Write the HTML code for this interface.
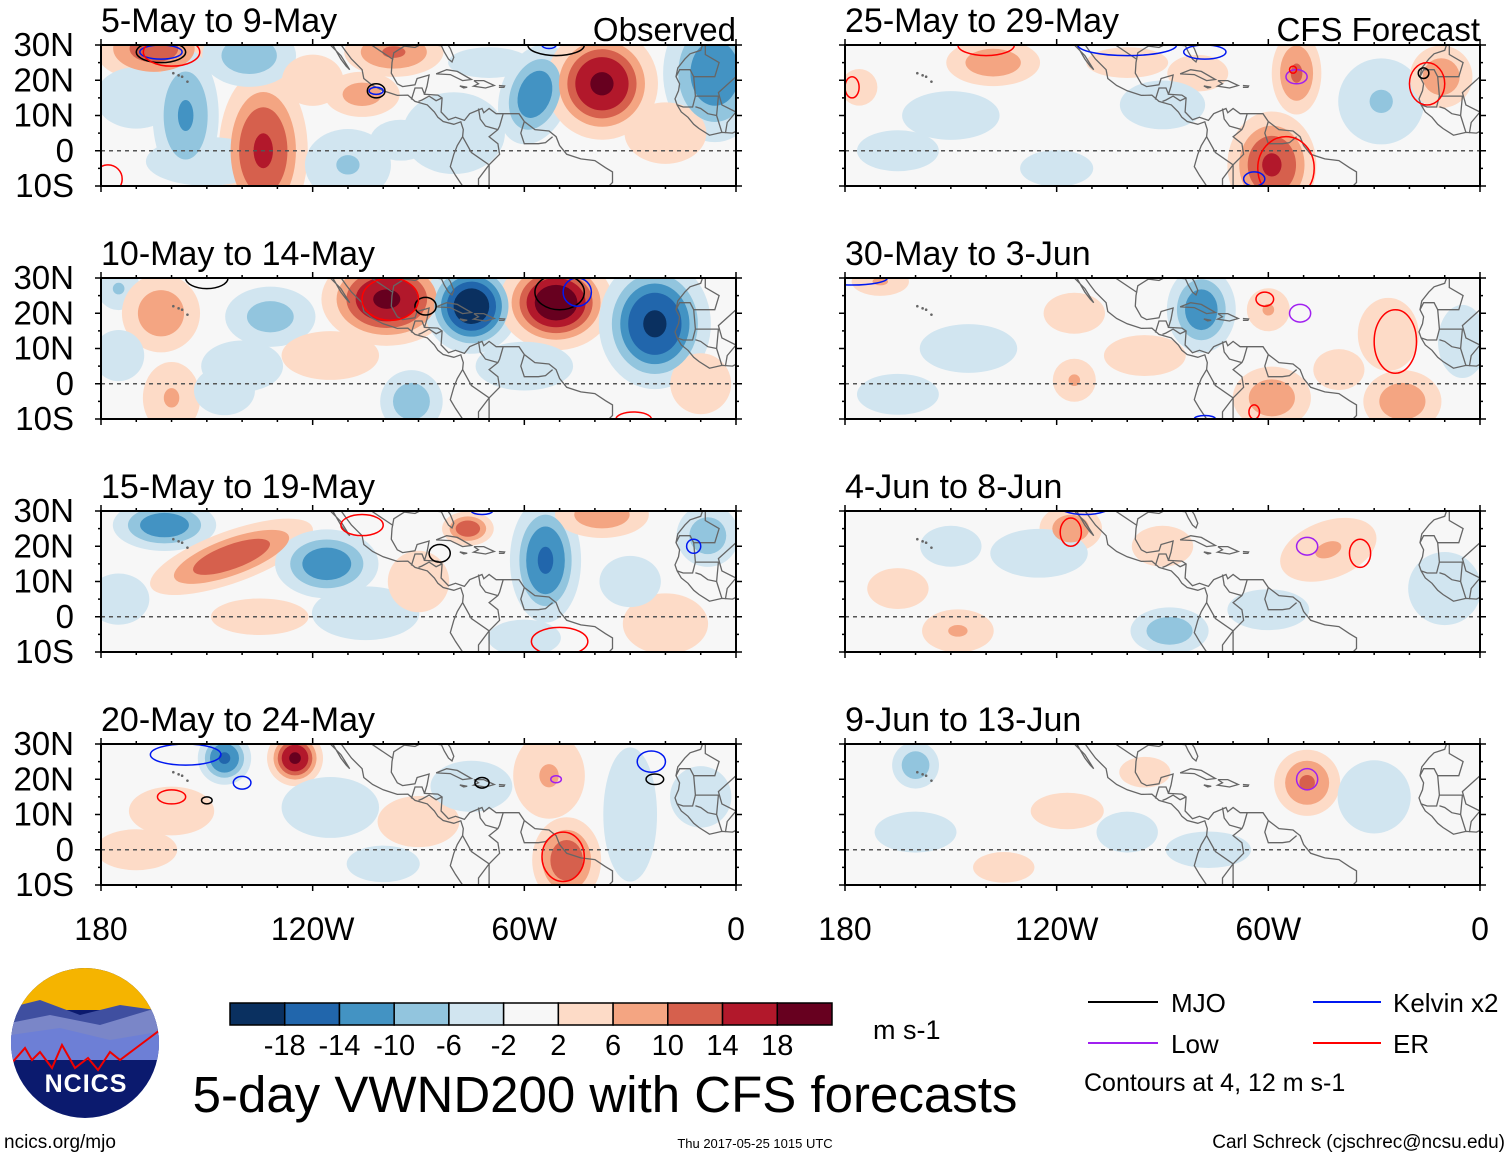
<!DOCTYPE html>
<html><head><meta charset="utf-8"><style>
html,body{margin:0;padding:0;background:#fff;}
svg text{font-family:"Liberation Sans",Arial,sans-serif;}
</style></head><body>
<svg id="fig" xmlns="http://www.w3.org/2000/svg" width="1510" height="1158" viewBox="0 0 1510 1158">
<rect width="1510" height="1158" fill="#fff"/>
<g id="panels"></g>
<g id="bottom">
  <g>
    <clipPath id="lc"><ellipse cx="85" cy="1043" rx="74" ry="75"/></clipPath>
    <g clip-path="url(#lc)">
      <rect x="0" y="960" width="170" height="170" fill="#0b1a6e"/>
      <rect x="0" y="960" width="170" height="50" fill="#f5b400"/>
      <path d="M0,1010 L40,1000 L80,1015 L120,1005 L170,1012 L170,1040 L0,1040Z" fill="#3f4fa0"/>
      <path d="M0,1025 L50,1015 L100,1025 L150,1010 L170,1015 L170,1050 L0,1050Z" fill="#7a86c8"/>
      <path d="M10,1035 L60,1028 L110,1040 L170,1030 L170,1060 L0,1060Z" fill="#6d7fd6"/>
      <path d="M10,1065 L25,1048 L32,1060 L40,1052 L52,1068 L62,1045 L75,1068 L88,1058 L98,1070 L110,1052 L120,1060 L140,1045 L160,1030" fill="none" stroke="#e00" stroke-width="2"/>
    </g>
    <text x="86" y="1092" font-size="25" font-weight="bold" fill="#fff" text-anchor="middle" letter-spacing="1">NCICS</text>
  </g>
  <text x="4" y="1148" font-size="19">ncics.org/mjo</text>
  <text x="755" y="1148" font-size="13" text-anchor="middle">Thu 2017-05-25 1015 UTC</text>
  <text x="1505" y="1148" font-size="19" text-anchor="end">Carl Schreck (cjschrec@ncsu.edu)</text>
  <text x="605" y="1112" font-size="51" text-anchor="middle">5-day VWND200 with CFS forecasts</text>
  <g id="cbar"></g>
  <text x="873" y="1039" font-size="27">m s-1</text>
  <g>
    <line x1="1088" y1="1002" x2="1158" y2="1002" stroke="#000" stroke-width="2"/>
    <text x="1171" y="1012" font-size="26">MJO</text>
    <line x1="1313" y1="1002" x2="1381" y2="1002" stroke="#0018f0" stroke-width="2"/>
    <text x="1393" y="1012" font-size="26">Kelvin x2</text>
    <line x1="1088" y1="1043" x2="1158" y2="1043" stroke="#a020f0" stroke-width="2"/>
    <text x="1171" y="1053" font-size="26">Low</text>
    <line x1="1313" y1="1043" x2="1381" y2="1043" stroke="#f00" stroke-width="2"/>
    <text x="1393" y="1053" font-size="26">ER</text>
    <text x="1084" y="1091" font-size="25">Contours at 4, 12 m s-1</text>
  </g>
  <g id="xlabels"></g>
</g>
</svg>
<script>
const NS="http://www.w3.org/2000/svg";
// ---- data ----
const panelTitles=["5-May to 9-May","10-May to 14-May","15-May to 19-May","20-May to 24-May","25-May to 29-May","30-May to 3-Jun","4-Jun to 8-Jun","9-Jun to 13-Jun"];
const latTicks=["30N","20N","10N","0","10S"];
const latVals=[30,20,10,0,-10];
const lonTickLabels=["180","120W","60W","0"];
const lonTickVals=[-180,-120,-60,0];
const cbarLabels=["-18","-14","-10","-6","-2","2","6","10","14","18"];
const cbarColors=["#0a3060","#2166ac","#4393c3","#92c5de","#d1e5f0","#f7f7f7","#fddbc7","#f4a582","#d6604d","#b2182b","#67001f"];
// anomaly blobs per panel: [lon, lat, value m/s, sigmaLon deg, sigmaLat deg, rotation deg]
const blobs0=[[-165,29,11,7,4,0],[-156,10,-10,4,8,0],[-134,0,14,5,9,0],[-138,27,-8,6,4,0],[-106,16,7,5,3,0],[-97,28,10,6,3,0],[-57,16,-12,4,6,20],[-38,19,18,6,6,-35],[-6,22,-12,6,8,0],[-110,-4,-6,6,5,0],[-150,-3,-4,10,4,0],[-80,5,-3,10,8,0],[-20,5,3,8,6,0],[-95,3,-3,6,4,0],[-170,15,-3,8,6,0],[-120,20,3,6,5,0],[-70,25,-3,8,3,0]];
const blobs1=[[-175,27,-6,3,3,0],[-163,20,8,5,5,0],[-160,-4,6,4,5,0],[-132,19,-7,6,4,0],[-99,24,18,7,5,0],[-75,22,-20,5,5,-20],[-51,23,20,6,5,0],[-23,17,-18,6,7,0],[-92,-5,-8,4,4,0],[-145,-2,-4,5,4,0],[-115,8,4,8,4,0],[-10,0,4,5,5,0],[-60,5,-4,8,4,0],[-140,5,-3,8,5,0],[-175,8,-3,5,5,0]];
const blobs2=[[-162,26,-12,6,3,0],[-143,17,12,10,3,-20],[-116,15,-12,6,4,0],[-76,25,12,3,2,0],[-54,16,-14,4,7,0],[-105,1,-5,8,4,0],[-38,29,8,6,3,0],[-20,-2,4,7,5,0],[-8,23,-8,4,4,0],[-135,0,4,8,3,0],[-60,-6,-4,6,3,0],[-175,5,-3,6,5,0],[-90,10,3,6,6,0],[-30,10,-3,6,5,0]];
const blobs3=[[-145,26,-14,3,3,0],[-125,26,18,3,3,0],[-160,11,4,7,4,0],[-53,21,6,5,6,0],[-48,-3,12,4,5,0],[-30,10,-5,4,10,0],[-115,12,-4,8,5,0],[-90,8,3,8,5,0],[-100,-4,-4,6,3,0],[-170,0,3,8,4,0],[-75,18,-3,8,5,0],[-10,15,-3,6,6,0]];
const blobs4=[[-176,18,4,3,3,0],[-138,25,8,6,3,0],[-80,22,4,5,3,0],[-52,22,10,3,5,0],[-59,-4,14,5,6,0],[-28,14,-6,6,6,0],[-11,21,8,4,4,0],[-90,13,-4,7,4,0],[-150,10,-4,8,4,0],[-120,-5,-4,6,3,0],[-100,25,3,8,3,0],[-165,0,-3,8,4,0]];
const blobs5=[[-170,29,6,4,2,0],[-79,21,-12,4,5,0],[-60,21,6,3,3,0],[-26,14,4,5,6,0],[-59,-4,8,5,4,0],[-115,1,6,3,3,0],[-22,-5,8,5,4,0],[-145,10,-4,8,4,0],[-95,8,3,8,4,0],[-40,4,3,5,4,0],[-5,12,-4,4,6,0],[-165,-3,-3,8,4,0],[-115,20,3,6,4,0]];
const blobs6=[[-116,25,8,4,3,0],[-43,19,6,7,4,-20],[-88,-4,-8,5,3,0],[-148,-4,6,5,3,0],[-125,18,-4,8,4,0],[-90,20,3,6,4,0],[-10,8,-4,6,6,0],[-165,8,3,6,4,0],[-60,2,-3,8,4,0],[-150,20,-3,6,4,0]];
const blobs7=[[-160,24,-8,3,3,0],[-49,19,10,4,4,0],[-117,11,4,6,3,0],[-77,0,-4,7,3,0],[-135,-5,3,6,3,0],[-30,15,-4,6,6,0],[-95,22,3,5,3,0],[-160,5,-3,8,4,0],[-100,5,-3,6,4,0]];
const panelBlobs=[blobs0,blobs1,blobs2,blobs3,blobs4,blobs5,blobs6,blobs7];
// contour rings per panel: [lon, lat, rxDeg, ryDeg, type]
const rings=[
 [[-163,28,7,3,"k"],[-163,28,6,2,"b"],[-160,28,8,4,"r"],[-102,17,2.5,2,"k"],[-102,17,2,1,"b"],[-51,30,8,3,"k"],[-53,30,2,1,"b"],[-178,-8,4,4,"r"]],
 [[-150,30,6,3,"k"],[-88,22,3,2.5,"k"],[-98,24,8,6,"r"],[-50,26,7,5,"k"],[-45,26,4,4,"b"],[-29,-10,5,2,"r"]],
 [[-106,26,6,3,"r"],[-84,18,3,2.5,"k"],[-72,30,3,1,"b"],[-12,20,2,2,"b"],[-50,-7,8,4,"r"]],
 [[-156,27,10,3,"b"],[-140,19,2.5,1.8,"b"],[-160,15,4,2,"r"],[-150,14,1.5,1,"k"],[-72,19,2,1.5,"k"],[-51,20,1.5,1,"v"],[-24,25,4,3,"b"],[-23,20,2.5,1.5,"k"],[-49,-2,6,7,"r"]],
 [[-178,18,2,3,"r"],[-140,30,8,3,"r"],[-100,30,14,3,"b"],[-78,28,6,2,"b"],[-52,21,3,2,"v"],[-53,23,1,1,"r"],[-55,-5,8,9,"r"],[-64,-8,3,2,"b"],[-15,19,5,6,"r"],[-16,22,1.5,1.5,"k"]],
 [[-178,30,10,2,"b"],[-61,24,2.5,2,"r"],[-51,20,3,2.5,"v"],[-24,12,6,9,"r"],[-64,-8,1.5,2,"r"],[-78,-10,3,1,"b"]],
 [[-112,32,8,3,"b"],[-116,24,3,4,"r"],[-49,20,3,2.5,"v"],[-34,18,3,4,"r"]],
 [[-49,20,3,3,"v"]]
];
const ringColor={k:"#000",b:"#0018f0",r:"#f00",v:"#a020f0"};
// coastlines [lon,lat]
const coasts=[
 [[-117,32.5],[-115,30],[-112,27],[-109.5,23],[-110.5,24],[-112,26],[-114,29.5],[-114.8,31.5]],
 [[-113,31.5],[-110.5,28],[-109,26],[-106,23],[-105.5,20.5],[-103,18.5],[-100,17],[-96,15.7],[-93,15.8],[-91,14],[-87.5,13],[-85.5,11],[-84.5,9.5],[-83,8.3],[-80,7.5],[-78,8.2],[-77.3,6],[-77.5,4],[-79,1.5],[-80,-1],[-81,-4.5],[-79.5,-7],[-77.5,-10]],
 [[-82,30.5],[-81,29],[-80,26.5],[-80.5,25.2],[-81.5,26],[-82.7,28],[-83.5,29.8],[-85.5,30],[-89,30.3],[-91,29.3],[-94,29.7],[-97,27.8],[-97.5,25],[-97.7,22],[-96,19],[-94.5,18.2],[-91,18.7],[-90.4,20.5],[-87,21.5],[-87.6,18.3],[-88.3,16],[-84.5,15.8],[-83.3,15],[-83.6,11],[-81.5,8.8],[-79.5,9.5],[-77,8.6],[-75.5,10.5],[-72,12],[-71.5,10.8],[-70,12],[-68,10.5],[-64,10.5],[-61.5,10.5],[-60,8.3],[-57,6],[-53,5.6],[-51,4],[-50,1.5],[-48,-1],[-44,-2.3],[-40,-2.8],[-37,-4.8],[-35,-6],[-35,-9],[-36,-10]],
 [[-85,21.8],[-82,23],[-79,22.5],[-75,20.2],[-77.5,19.9],[-81,21.6],[-85,21.8]],
 [[-74.3,19.9],[-71.5,19.9],[-68.5,18.5],[-71,17.8],[-74.4,18.3],[-73,19],[-74.3,19.9]],
 [[-67.2,18.5],[-65.6,18.4],[-65.8,18],[-67.2,18]],
 [[-78.3,18.4],[-76.2,18],[-77.2,17.8],[-78.3,18.4]],
 [[-9.5,30],[-10,28.5],[-13,27.5],[-14.5,26],[-16.5,23.5],[-17,21],[-16,19],[-16.3,17],[-17.3,14.7],[-16.7,13],[-15.5,11],[-13.6,9.5],[-12,7.5],[-10.5,6.3],[-7.5,4.4],[-4,5.2],[-1,5],[1,6]],
 [[-8.7,30],[-8.7,27.3],[-4.8,25],[-6,21],[-12,21],[-13,23],[-16,23],[-17,21]],
 [[-12,21],[-11.5,15.5],[-5,15.5],[-5.5,10],[-4,5.2]],
 [[-11.5,15.5],[-12.3,12.4],[-15,12.4],[-16.7,13]],
 [[-5.5,10],[-8,10.5],[-10,12],[-11.5,12.5]],
 [[0,21],[-5,16.5],[-4,13],[0,11],[-2.5,8],[-3,5]],
 [[-66,10.5],[-67,7],[-67.5,6],[-70,4],[-67.5,2],[-67,-1],[-70,-4],[-73,-8],[-73,-10]],
 [[-73,12],[-72.5,9],[-71,7],[-67.5,6]],
 [[-60,8.3],[-61,5],[-60,2],[-56,2],[-54,2.3],[-52,4]],
 [[-77.5,4],[-75,-0.5],[-70,-4],[-70,-10]],
 [[-117,32.5],[-113,31.5]],
 [[-97.2,25.9],[-106,31.8],[-108,31.8],[-111,31.3],[-114.8,32.5]],
 [[-92,14.5],[-91,17.8],[-89,17.8],[-88.3,16]],
 [[-90,14],[-89,14.4],[-87,15.5],[-85,14.2],[-83.3,15]]
];
const islands=[[-155.5,19.6],[-157,21],[-158,21.4],[-159.5,22]];
// ---- layout ----
const colX=[101,845], rowY=[45,278,511,744], PW=635, PH=141;
const pg=document.getElementById('panels');
function xS(x0,lon){return x0+(lon+180)*PW/180;}
function yS(y0,lat){return y0+(30-lat)*PH/40;}
const levels=[2,6,10,14,18];
function levelColor(sign,t){const i=levels.indexOf(t);return sign>0?cbarColors[6+i]:cbarColors[4-i];}
function el(tag,attrs,parent){const e=document.createElementNS(NS,tag);for(const k in attrs)e.setAttribute(k,attrs[k]);parent.appendChild(e);return e;}
const degPx=PW/180;
for(let p=0;p<8;p++){
  const x0=colX[p<4?0:1], y0=rowY[p%4];
  const g=el('g',{},pg);
  
  
  const cid='clip'+p;
  const cp=el('clipPath',{id:cid},g);el('rect',{x:x0,y:y0,width:PW,height:PH},cp);
  const inner=el('g',{'clip-path':'url(#'+cid+')'},g);
  el('rect',{x:x0,y:y0,width:PW,height:PH,fill:'#f7f7f7'},inner);
  const bl=panelBlobs[p];
  for(const t of levels){
    for(const b of bl){
      const [lon,lat,v,sx,sy,rot]=b;
      if(Math.abs(v)<t)continue;
      const k=Math.sqrt(2*Math.log(Math.abs(v)/t))+0.55;
      const cx=xS(x0,lon), cy=yS(y0,lat);
      const e=el('ellipse',{cx:cx,cy:cy,rx:sx*k*degPx,ry:sy*k*degPx,fill:levelColor(Math.sign(v),t),transform:'rotate('+rot+' '+cx+' '+cy+')'},inner);
      
      
    }
  }
  el('line',{x1:x0,y1:yS(y0,0),x2:x0+PW,y2:yS(y0,0),stroke:'#555','stroke-width':1.5,'stroke-dasharray':'4,4'},inner);
  for(const c of coasts){
    const pts=c.map(q=>xS(x0,q[0]).toFixed(1)+','+yS(y0,q[1]).toFixed(1)).join(' ');
    const pl=el('polyline',{points:pts,fill:'none',stroke:'#666','stroke-width':1.3},inner);
    
    
  }
  for(const q of islands)el('circle',{cx:xS(x0,q[0]),cy:yS(y0,q[1]),r:1.3,fill:'#666'},inner);
  for(const r of rings[p]){
    const [lon,lat,rx,ry,ty]=r;
    const e=el('ellipse',{cx:xS(x0,lon),cy:yS(y0,lat),rx:rx*degPx,ry:ry*degPx,fill:'none',stroke:ringColor[ty],'stroke-width':1.5},inner);
    
    
  }
  el('rect',{x:x0,y:y0,width:PW,height:PH,fill:'none',stroke:'#000','stroke-width':2},g);
  for(let lon=-180;lon<=0;lon+=10){
    const x=xS(x0,lon), major=lon%60===0, L=major?6:3;
    el('line',{x1:x,y1:y0,x2:x,y2:y0-L,stroke:'#000','stroke-width':1.5},g);
    el('line',{x1:x,y1:y0+PH,x2:x,y2:y0+PH+L,stroke:'#000','stroke-width':1.5},g);
  }
  for(let lat=-10;lat<=30;lat+=5){
    const y=yS(y0,lat), L=lat%10===0?6:3;
    el('line',{x1:x0,y1:y,x2:x0-L,y2:y,stroke:'#000','stroke-width':1.5},g);
    el('line',{x1:x0+PW,y1:y,x2:x0+PW+L,y2:y,stroke:'#000','stroke-width':1.5},g);
  }
  const tt=el('text',{x:x0,y:y0-13,'font-size':34},g);
  tt.textContent=panelTitles[p];
  
  
  if(p===0||p===4){
    const lab=el('text',{x:x0+PW,y:y0-4,'font-size':33,'text-anchor':'end'},g);
    lab.textContent=p===0?'Observed':'CFS Forecast';
    
    
  }
  if(p<4){
    latVals.forEach((la,i)=>{
      const t=el('text',{x:74,y:yS(y0,la)+11,'font-size':33,'text-anchor':'end'},g);
      t.textContent=latTicks[i];
      
      
    });
  }
}
const xl=document.getElementById('xlabels');
for(const x0 of colX){
  lonTickVals.forEach((lo,i)=>{
    const t=el('text',{x:xS(x0,lo),y:940,'font-size':32,'text-anchor':'middle'},xl);
    t.textContent=lonTickLabels[i];
    
    
  });
}
const cb=document.getElementById('cbar');
const cbx=230,cbw=602/11;
cbarColors.forEach((c,i)=>{
  const r=el('rect',{x:cbx+i*cbw,y:1003,width:cbw,height:22,fill:c,stroke:'#000','stroke-width':1.5},cb);
  
  
});
cbarLabels.forEach((l,i)=>{
  const t=el('text',{x:cbx+(i+1)*cbw,y:1055,'font-size':29,'text-anchor':'middle'},cb);
  t.textContent=l;
  
  
});
</script>
</body></html>
